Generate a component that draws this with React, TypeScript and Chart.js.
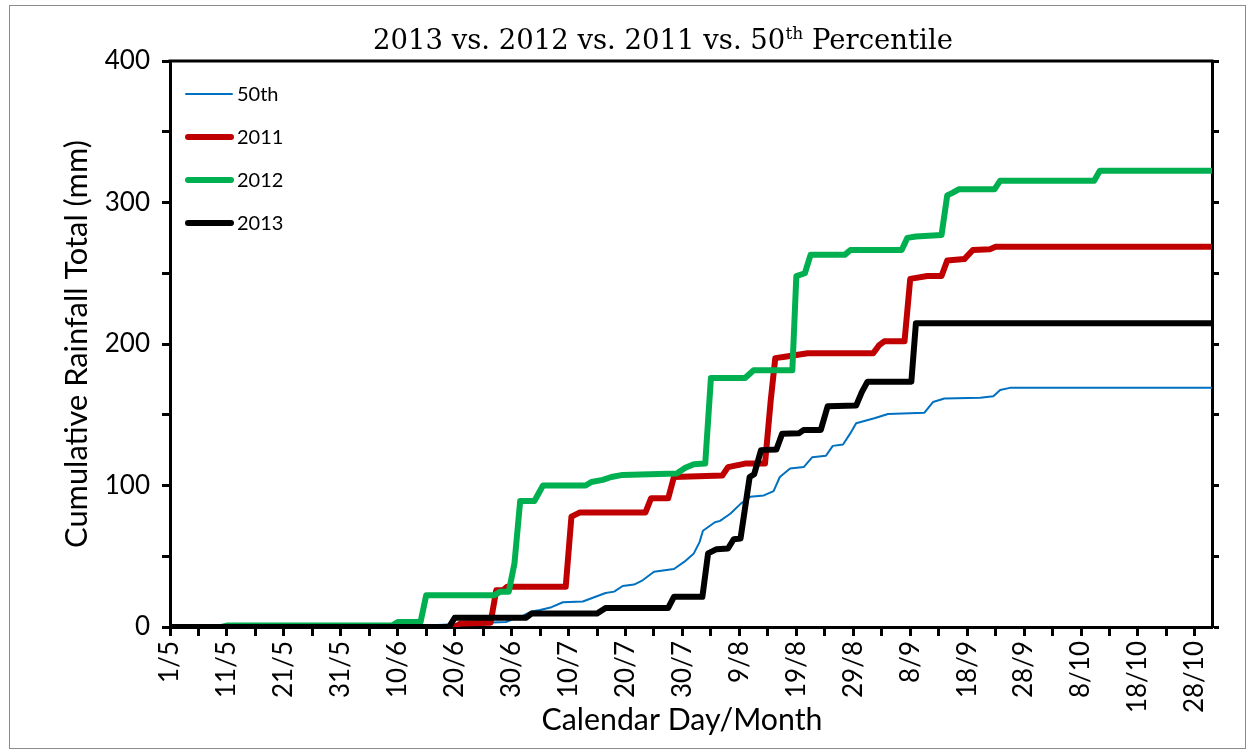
import React, { useEffect, useRef } from 'react';
import { Chart, registerables } from 'chart.js';

Chart.register(...registerables);

// Tick labels every 10 days starting 1/5 (day 0)
const xTickLabels = ['1/5', '11/5', '21/5', '31/5', '10/6', '20/6', '30/6', '10/7', '20/7', '30/7', '9/8', '19/8', '29/8', '8/9', '18/9', '28/9', '8/10', '18/10', '28/10'];
const yTickValues = [0, 100, 200, 300, 400];

const seriesNames = ['50th', '2011', '2012', '2013'];

// Day index (0 = 1/5) and cumulative rainfall (mm)
const days50 = [0, 40, 45, 50, 55, 59, 60.5, 62, 63.5, 65, 67, 69, 72.5, 74.5, 76.5, 78, 79.5, 81.5, 83, 85, 88.5, 90.3, 92, 93, 93.6, 95.7, 96.6, 98.4, 100.2, 101.9, 104.3, 106, 107.1, 108.9, 111.3, 112.8, 115.2, 116.4, 118.2, 119.5, 120.5, 123.7, 126.1, 132.5, 134, 136, 142.3, 144.6, 145.8, 147.5, 183];
const vals50 = [0, 0, 1, 2, 3, 3.5, 6, 8, 11, 12, 14, 17.5, 18, 21, 24, 25, 29, 30, 33, 39, 41, 46, 52, 60, 68, 74, 75, 80, 87, 92, 93, 96, 106, 112, 113, 120, 121, 128, 129, 137, 144, 147.5, 150.5, 151.5, 159, 161.5, 162, 163, 167.5, 169, 169];

const days2011 = [0, 50, 51, 56.3, 57.3, 58.5, 59.2, 69.5, 70.5, 72, 83.5, 84.5, 87.5, 88.5, 97, 98, 101, 104.5, 105.5, 106.3, 108, 112, 123.5, 124.5, 125.5, 129, 130, 133, 135.5, 136.5, 139.5, 141, 144, 145, 183];
const vals2011 = [0, 0, 2.5, 3, 26, 26, 28.5, 28.5, 78, 81, 81, 91, 91, 106, 107, 113, 115.5, 115.5, 160, 190, 191, 193.5, 193.5, 199, 202, 202, 246, 248, 248, 259, 260, 266.4, 267, 268.7, 268.7];

const days2012 = [0, 9, 10, 39, 40, 44, 45, 57, 58, 59.5, 60.5, 61.5, 64, 65.5, 73, 74, 76, 77.5, 79.5, 89, 90.5, 92, 94, 95, 101, 102.5, 109.3, 110, 111.5, 112.5, 118.5, 119.5, 128.5, 129.5, 131, 135.5, 136.5, 137.5, 138.5, 144.8, 145.8, 162.3, 163.3, 183];
const vals2012 = [0, 0, 1, 1, 3.5, 3.5, 22.5, 22.5, 25, 25, 45, 89, 89, 100, 100, 102.5, 104, 106, 107.5, 108.5, 112.5, 115, 115.5, 176, 176, 181.5, 181.5, 248, 250, 263, 263, 266.4, 266.4, 275, 276, 277, 305, 307, 309.3, 309.3, 315.4, 315.4, 322.5, 322.5];

const days2013 = [0, 49, 50, 62.5, 63.5, 75, 76.5, 87.5, 88.5, 93.5, 94.5, 96, 98, 99, 100.2, 101.8, 102.6, 103.8, 106.5, 107.5, 110.5, 111.3, 114.3, 115.5, 120.5, 121.5, 122.5, 130.2, 131, 183];
const vals2013 = [0, 0, 6.5, 6.5, 9.5, 9.5, 13.5, 13.5, 21.3, 21.3, 52, 55, 55.5, 62, 62.5, 106, 108, 125, 125.5, 136.5, 137, 139.3, 139.3, 156, 156.5, 166, 173.4, 173.4, 214.7, 214.7];

const colors = ['#0070C0', '#C00000', '#00B050', '#000000'];
const widths = [2, 6, 6, 6];

const toPoints = (d: number[], v: number[]) => d.map((x, i) => ({ x, y: v[i] }));

const SANS = 'Lato, "Open Sans", sans-serif';
const SERIF = '"DejaVu Serif", serif';

function fitFont(ctx: CanvasRenderingContext2D, text: string, family: string, target: number, base: number) {
  ctx.font = `${base}px ${family}`;
  const w = ctx.measureText(text).width;
  return (base * target) / w;
}

const decorPlugin = {
  id: 'decor',
  beforeDraw(chart: any) {
    const ctx = chart.ctx as CanvasRenderingContext2D;
    ctx.save();
    ctx.fillStyle = '#ffffff';
    ctx.fillRect(0, 0, chart.width, chart.height);
    ctx.strokeStyle = '#8c8c8c';
    ctx.lineWidth = 1;
    ctx.strokeRect(9.5, 5.5, 1236, 743);
    ctx.restore();
  },
  afterDraw(chart: any) {
    const ctx = chart.ctx as CanvasRenderingContext2D;
    const area = chart.chartArea;
    ctx.save();
    // top frame line
    ctx.strokeStyle = '#000';
    ctx.lineWidth = 3;
    ctx.beginPath();
    ctx.moveTo(area.left - 1.5, area.top);
    ctx.lineTo(area.right + 1.5, area.top);
    ctx.stroke();

    // Title with superscript
    const p1 = '2013 vs. 2012 vs. 2011 vs. 50';
    const sup = 'th';
    const p2 = ' Percentile';
    const base = 26;
    ctx.font = `${base}px ${SERIF}`;
    const w1 = ctx.measureText(p1).width;
    const w3 = ctx.measureText(p2).width;
    ctx.font = `${base * 0.62}px ${SERIF}`;
    const w2 = ctx.measureText(sup).width;
    const scale = 580 / (w1 + w2 + w3);
    const fs = base * scale;
    const total = 580;
    let x = 663 - total / 2;
    const baseY = 49;
    ctx.fillStyle = '#000';
    ctx.textAlign = 'left';
    ctx.textBaseline = 'alphabetic';
    ctx.font = `${fs}px ${SERIF}`;
    ctx.fillText(p1, x, baseY);
    x += w1 * scale;
    ctx.font = `${fs * 0.62}px ${SERIF}`;
    ctx.fillText(sup, x, baseY - fs * 0.36);
    x += w2 * scale;
    ctx.font = `${fs}px ${SERIF}`;
    ctx.fillText(p2, x, baseY);

    // Axis titles
    const yTitle = 'Cumulative Rainfall Total (mm)';
    const yfs = fitFont(ctx, yTitle, SANS, 408, 24);
    ctx.font = `${yfs}px ${SANS}`;
    ctx.save();
    ctx.translate(87, 344);
    ctx.rotate(-Math.PI / 2);
    ctx.textAlign = 'center';
    ctx.textBaseline = 'alphabetic';
    ctx.fillText(yTitle, 0, 0);
    ctx.restore();

    const xTitle = 'Calendar Day/Month';
    const xfs = fitFont(ctx, xTitle, SANS, 281, 24);
    ctx.font = `${xfs}px ${SANS}`;
    ctx.textAlign = 'center';
    ctx.textBaseline = 'alphabetic';
    ctx.fillText(xTitle, 682, 730);

    // Legend
    const rows = [94, 137, 180, 223];
    ctx.lineCap = 'round';
    ctx.font = `20px ${SANS}`;
    ctx.textAlign = 'left';
    ctx.textBaseline = 'middle';
    seriesNames.forEach((name, i) => {
      ctx.strokeStyle = colors[i];
      ctx.lineWidth = widths[i];
      ctx.beginPath();
      ctx.moveTo(i === 0 ? 186 : 188, rows[i]);
      ctx.lineTo(i === 0 ? 232 : 231, rows[i]);
      ctx.stroke();
      ctx.fillStyle = '#000';
      ctx.fillText(name, 237, rows[i] + 1);
    });
    ctx.restore();
  },
};

export default function App() {
  const ref = useRef<HTMLCanvasElement | null>(null);

  useEffect(() => {
    if (!ref.current) return;
    const allDays = [days50, days2011, days2012, days2013];
    const allVals = [vals50, vals2011, vals2012, vals2013];
    const tickFont = { family: SANS, size: 26 };
    const chart = new Chart(ref.current, {
      type: 'line',
      data: {
        datasets: seriesNames.map((name, i) => ({
          label: name,
          data: toPoints(allDays[i], allVals[i]),
          borderColor: colors[i],
          backgroundColor: colors[i],
          borderWidth: widths[i],
          pointRadius: 0,
          tension: 0,
          fill: false,
          borderJoinStyle: 'round' as const,
          borderCapStyle: 'round' as const,
          order: 4 - i,
        })),
      },
      options: {
        responsive: false,
        animation: false,
        layout: { padding: { top: 61, left: 0, right: 0, bottom: 0 } },
        plugins: {
          legend: { display: false },
          title: { display: false },
          tooltip: { enabled: false },
        },
        scales: {
          x: {
            type: 'linear',
            min: 0,
            max: 183,
            afterFit: (s: any) => {
              s.height = 125;
            },
            ticks: {
              stepSize: 5,
              includeBounds: false,
              autoSkip: false,
              maxRotation: 90,
              minRotation: 90,
              padding: 5,
              color: '#000',
              font: tickFont,
              callback: (v: any) => {
                const n = Number(v);
                return n % 10 === 0 ? xTickLabels[n / 10] ?? '' : '';
              },
            },
            grid: { drawOnChartArea: false, drawTicks: true, tickLength: 9, tickWidth: 3, tickColor: '#000' },
            border: { display: true, color: '#000', width: 3 },
          },
          y: {
            type: 'linear',
            position: 'left',
            min: 0,
            max: 400,
            afterFit: (s: any) => {
              s.width = 170;
            },
            ticks: {
              stepSize: 50,
              padding: 12,
              color: '#000',
              font: tickFont,
              callback: (v: any) => (yTickValues.includes(Number(v)) ? String(v) : ''),
            },
            grid: { drawOnChartArea: false, drawTicks: true, tickLength: 8, tickWidth: 3, tickColor: '#000' },
            border: { display: true, color: '#000', width: 3 },
          },
          y2: {
            type: 'linear',
            position: 'right',
            min: 0,
            max: 400,
            afterFit: (s: any) => {
              s.width = 37;
            },
            ticks: { stepSize: 50, display: false },
            grid: { drawOnChartArea: false, drawTicks: true, tickLength: 7, tickWidth: 3, tickColor: '#000' },
            border: { display: true, color: '#000', width: 3 },
          },
        },
      },
      plugins: [decorPlugin],
    });
    return () => chart.destroy();
  }, []);

  return (
    <div style={{ position: 'fixed', left: 0, top: 0, width: 1249, height: 752, background: '#fff' }}>
      <canvas ref={ref} width={1249} height={752} style={{ display: 'block' }} />
    </div>
  );
}
